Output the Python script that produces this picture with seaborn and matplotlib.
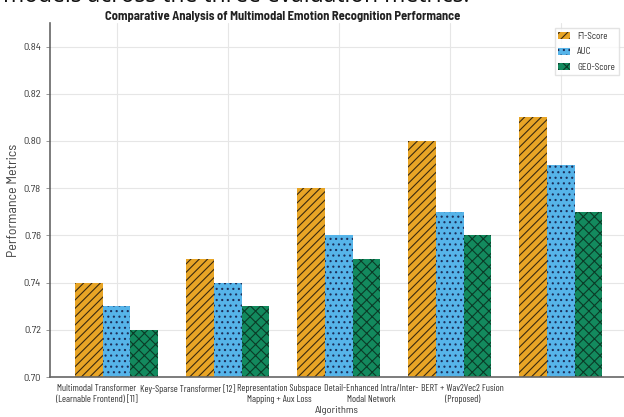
import seaborn as sns
import matplotlib.pyplot as plt
import pandas as pd
import numpy as np

# data
algorithms = [
    "Multimodal Transformer\n(Learnable Frontend) [11]",
    "Key-Sparse Transformer [12]",
    "Representation Subspace\nMapping + Aux Loss",
    "Detail-Enhanced Intra/Inter-\nModal Network",
    "BERT + Wav2Vec2 Fusion\n(Proposed)",
]
metrics = ["F1-Score", "AUC", "GEO-Score"]
f1_score = [0.74, 0.75, 0.78, 0.80, 0.81]
auc = [0.73, 0.74, 0.76, 0.77, 0.79]
geo_score = [0.72, 0.73, 0.75, 0.76, 0.77]

df = pd.DataFrame({
    "Algorithm": algorithms * 3,
    "Metric": np.repeat(metrics, len(algorithms)),
    "Score": f1_score + auc + geo_score,
})

sns.set_style("white")
plt.rcParams["font.family"] = ["Barlow Semi Condensed", "Liberation Sans", "DejaVu Sans"]
narrow = ["Barlow Condensed", "Liberation Sans", "DejaVu Sans"]
plt.rcParams["hatch.linewidth"] = 0.8

colors = ["#E8A526", "#56B4E9", "#138A5E"]
hatch_colors = ["#3a2a10", "#1d2f5a", "#0b3b27"]
hatches = ["////", "...", "xxx"]

fig = plt.figure(figsize=(6.24, 4.17), dpi=100)
ax = fig.add_axes([0.0801, 0.0959, 0.92, 0.849])

sns.barplot(data=df, x="Algorithm", y="Score", hue="Metric", palette=colors,
            width=0.75, saturation=1, ax=ax, legend=False, zorder=2)

for cont, h, hc in zip(ax.containers, hatches, hatch_colors):
    for bar in cont:
        bar.set_hatch(h)
        bar.set_edgecolor(hc)
        bar.set_linewidth(0)

ax.set_ylim(0.70, 0.85)
yticks = np.arange(0.70, 0.841, 0.02)
ax.set_yticks(yticks)
ax.set_yticklabels([f"{v:.2f}" for v in yticks])
ax.set_xlim(-0.60, 4.57)

# grid on the group centres, labels sit a little to the left as in the reference
ax.set_xticks(range(len(algorithms)))
ax.set_xticklabels([])
ax.set_xticks([-0.18 + 0.824 * i for i in range(len(algorithms))], minor=True)
ax.set_xticklabels(algorithms, minor=True, fontsize=7, color="#333333",
                   linespacing=1.25, family=narrow)
ax.tick_params(axis="x", which="both", length=0, pad=5)
ax.tick_params(axis="y", length=3, width=0.6, color="#888888", labelsize=7.5,
               labelcolor="#333333", left=True)

ax.grid(True, color="#e6e6e6", linewidth=0.8, zorder=0)
ax.set_axisbelow(True)
sns.despine(ax=ax, top=True, right=True)
for side in ["left", "bottom"]:
    ax.spines[side].set_color("#666666")
    ax.spines[side].set_linewidth(1.2)

ax.set_xlabel("Algorithms", fontsize=7.5, color="#333333", labelpad=1)
ax.set_ylabel("Performance Metrics", fontsize=10, color="#444444", labelpad=2)
ax.set_title("Comparative Analysis of Multimodal Emotion Recognition Performance",
             fontsize=9, fontweight="bold", x=0.406, pad=2, color="#222222")

ax.legend(handles=[c[0] for c in ax.containers], labels=metrics, loc="upper right",
          fontsize=6.5, handlelength=1.3, handleheight=0.8, labelspacing=0.7,
          frameon=True, edgecolor="#dddddd", fancybox=False, borderaxespad=0.6)

# caption line of the surrounding document, cut off at the top edge
fig.text(0.005, 0.995, "models across the three evaluation metrics.",
         fontsize=16.5, family="Open Sans", va="baseline", ha="left", color="#111111")

fig.savefig("out.png", dpi=100)
